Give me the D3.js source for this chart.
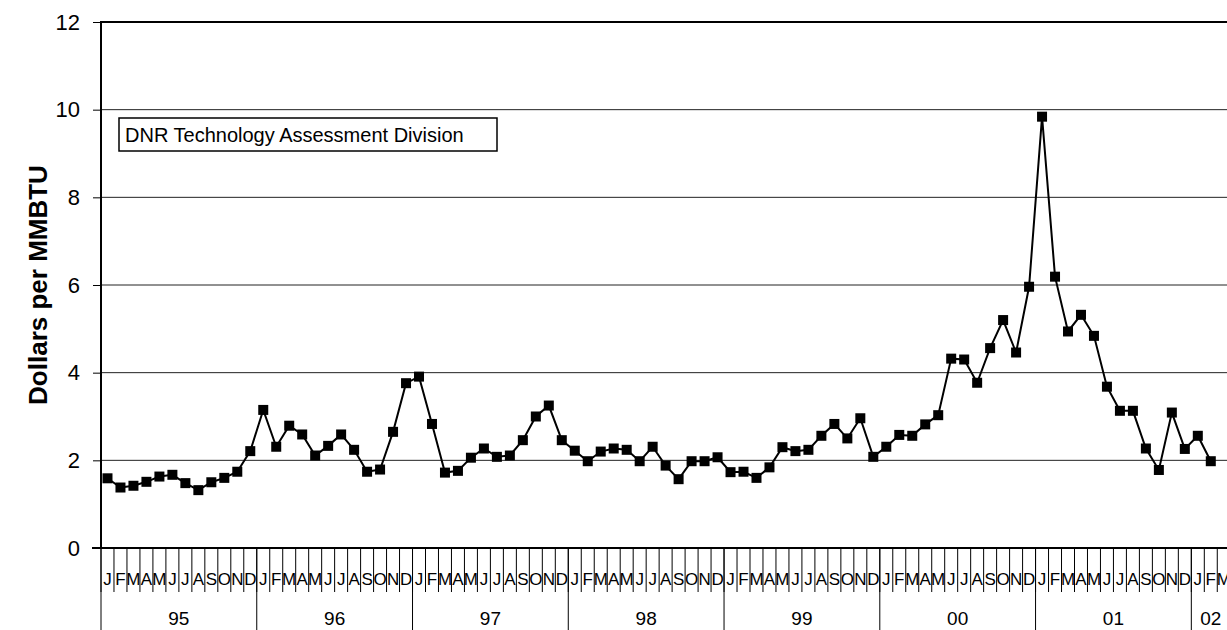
<!DOCTYPE html>
<html>
<head>
<meta charset="utf-8">
<script src="https://cdnjs.cloudflare.com/ajax/libs/d3/7.8.5/d3.min.js"></script>
<style>
body { margin: 0; background: #fff; }
svg { display: block; font-family: Arial, "Liberation Sans", sans-serif; }
</style>
</head>
<body>
<svg id="chart" width="1227" height="630"></svg>
<script>
var years = ["95", "96", "97", "98", "99", "00", "01", "02"];
var monthLetters = ["J", "F", "M", "A", "M", "J", "J", "A", "S", "O", "N", "D"];
var monthsOnAxis = [12, 12, 12, 12, 12, 12, 12, 3];

// monthly price, dollars per MMBTU
var price95 = [1.59, 1.38, 1.42, 1.51, 1.63, 1.67, 1.48, 1.32, 1.50, 1.60, 1.74, 2.21];
var price96 = [3.15, 2.31, 2.79, 2.59, 2.11, 2.33, 2.59, 2.24, 1.74, 1.79, 2.65, 3.76];
var price97 = [3.91, 2.83, 1.72, 1.76, 2.06, 2.27, 2.08, 2.11, 2.46, 3.00, 3.25, 2.46];
var price98 = [2.22, 1.98, 2.20, 2.27, 2.24, 1.98, 2.31, 1.88, 1.57, 1.98, 1.98, 2.07];
var price99 = [1.73, 1.74, 1.60, 1.84, 2.30, 2.21, 2.24, 2.56, 2.83, 2.50, 2.96, 2.08];
var price00 = [2.31, 2.58, 2.56, 2.82, 3.03, 4.32, 4.30, 3.77, 4.56, 5.20, 4.46, 5.96];
var price01 = [9.84, 6.19, 4.94, 5.32, 4.84, 3.68, 3.13, 3.13, 2.27, 1.78, 3.09, 2.26];
var price02 = [2.56, 1.98];

var yTicks = [0, 2, 4, 6, 8, 10, 12];
var yTitle = "Dollars per MMBTU";
var boxLabel = "DNR Technology Assessment Division";

var svg = d3.select("#chart");
var plotLeft = 101, plotTop = 22, plotBottom = 548, monthW = 12.98;

// one category per month on the axis
var cats = [];
years.forEach(function(yr, i) {
  for (var m = 0; m < monthsOnAxis[i]; m++) {
    cats.push({ key: yr + "-" + m, year: yr, letter: monthLetters[m] });
  }
});

var prices = [].concat(price95, price96, price97, price98, price99, price00, price01, price02);
var points = prices.map(function(v, i) { return { key: cats[i].key, v: v }; });

var x = d3.scaleBand()
          .domain(cats.map(function(d) { return d.key; }))
          .range([plotLeft, plotLeft + cats.length * monthW]);

var y = d3.scaleLinear().domain([0, 12]).range([plotBottom, plotTop]);

// gridlines
svg.append("g")
   .selectAll("line")
   .data(yTicks.filter(function(t) { return t > 0 && t < 12; }))
   .enter()
   .append("line")
   .attr("x1", plotLeft).attr("x2", 1227)
   .attr("y1", function(d) { return y(d); })
   .attr("y2", function(d) { return y(d); })
   .attr("stroke", "#222")
   .attr("stroke-width", 1);

svg.append("line")
   .attr("x1", plotLeft).attr("x2", 1227)
   .attr("y1", y(12)).attr("y2", y(12))
   .attr("stroke", "#000").attr("stroke-width", 2);

// y axis
var yAxis = svg.append("g")
               .attr("transform", "translate(" + plotLeft + ",0)")
               .call(d3.axisLeft(y).tickValues(yTicks).tickSize(8).tickPadding(13));

yAxis.select(".domain").remove();
yAxis.selectAll("text").attr("font-size", 22).attr("font-family", "Arial, 'Liberation Sans', sans-serif").attr("fill", "#000");
yAxis.selectAll(".tick line").attr("stroke", "#000");

svg.append("line")
   .attr("x1", plotLeft).attr("x2", plotLeft)
   .attr("y1", plotTop - 1).attr("y2", plotBottom)
   .attr("stroke", "#000").attr("stroke-width", 2);

svg.append("text")
   .attr("transform", "translate(38," + ((plotTop + plotBottom) / 2) + ") rotate(-90)")
   .attr("text-anchor", "middle")
   .attr("dominant-baseline", "central")
   .attr("font-size", 26)
   .attr("font-weight", "bold")
   .text(yTitle);

// category axis: month cells and year groups
var xAxis = svg.append("g");

xAxis.selectAll("line.month")
     .data(cats)
     .enter()
     .append("line")
     .attr("class", "month")
     .attr("x1", function(d) { return x(d.key); })
     .attr("x2", function(d) { return x(d.key); })
     .attr("y1", plotBottom).attr("y2", 592)
     .attr("stroke", "#000").attr("stroke-width", 1);

xAxis.selectAll("text.month")
     .data(cats)
     .enter()
     .append("text")
     .attr("class", "month")
     .attr("x", function(d) { return x(d.key) + x.bandwidth() / 2; })
     .attr("y", 585)
     .attr("text-anchor", "middle")
     .attr("font-size", 17)
     .text(function(d) { return d.letter; });

var yearSpans = years.map(function(yr, i) {
  var first = cats.filter(function(c) { return c.year === yr; });
  return { year: yr, x0: x(first[0].key), x1: x(first[first.length - 1].key) + x.bandwidth() };
});

xAxis.selectAll("line.year")
     .data(yearSpans)
     .enter()
     .append("line")
     .attr("class", "year")
     .attr("x1", function(d) { return d.x0; })
     .attr("x2", function(d) { return d.x0; })
     .attr("y1", plotBottom).attr("y2", 630)
     .attr("stroke", "#000").attr("stroke-width", 1);

xAxis.selectAll("text.year")
     .data(yearSpans)
     .enter()
     .append("text")
     .attr("class", "year")
     .attr("x", function(d) { return (d.x0 + d.x1) / 2; })
     .attr("y", 625)
     .attr("text-anchor", "middle")
     .attr("font-size", 19)
     .text(function(d) { return d.year; });

svg.append("line")
   .attr("x1", 92).attr("x2", 1227)
   .attr("y1", plotBottom).attr("y2", plotBottom)
   .attr("stroke", "#000").attr("stroke-width", 2);

// series
var makeLine = d3.line()
                 .x(function(d) { return x(d.key) + x.bandwidth() / 2; })
                 .y(function(d) { return y(d.v); });

svg.append("path")
   .datum(points)
   .attr("fill", "none")
   .attr("stroke", "#000")
   .attr("stroke-width", 2)
   .attr("d", makeLine);

svg.selectAll("rect.marker")
   .data(points)
   .enter()
   .append("rect")
   .attr("class", "marker")
   .attr("x", function(d) { return x(d.key) + x.bandwidth() / 2 - 5; })
   .attr("y", function(d) { return y(d.v) - 5; })
   .attr("width", 10)
   .attr("height", 10)
   .attr("fill", "#000");

// label box
svg.append("rect")
   .attr("x", 119).attr("y", 118)
   .attr("width", 378).attr("height", 33)
   .attr("fill", "#fff")
   .attr("stroke", "#000")
   .attr("stroke-width", 1.5);

svg.append("text")
   .attr("x", 125).attr("y", 142)
   .attr("font-size", 20)
   .text(boxLabel);
</script>
</body>
</html>
